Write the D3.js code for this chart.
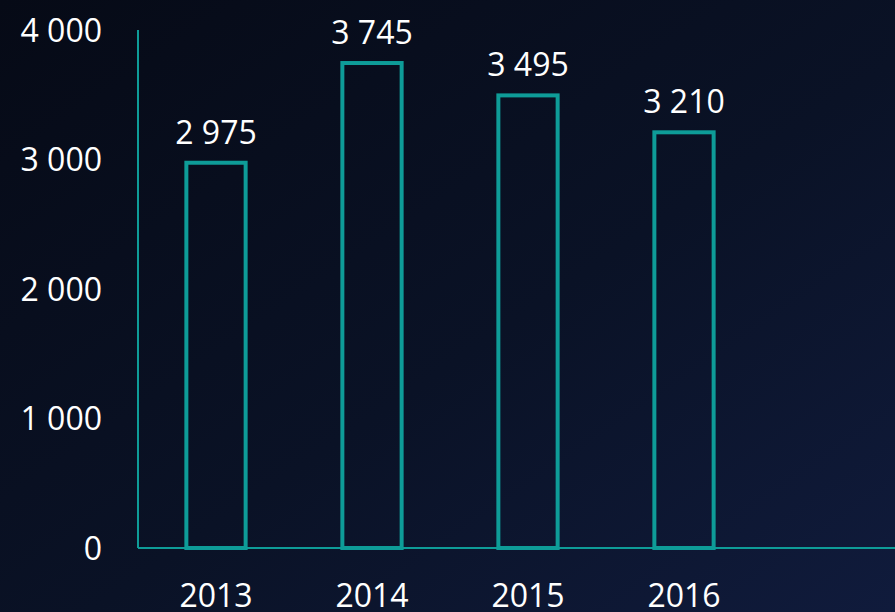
<!DOCTYPE html>
<html>
<head>
<meta charset="utf-8">
<script src="https://cdn.jsdelivr.net/npm/d3@7"></script>
<style>
  html, body { margin: 0; padding: 0; background: #080d1c; }
  svg { display: block; }
  text { font-family: "Open Sans", sans-serif; fill: #ffffff; }
</style>
</head>
<body>
<div id="chart"></div>
<script>
// chart data
const years = ['2013', '2014', '2015', '2016'];
const values = [2975, 3745, 3495, 3210];
const yTicks = [0, 1000, 2000, 3000, 4000];

const width = 895;
const height = 612;
const plotLeft = 138, plotTop = 30, plotBottom = 548;
const teal = '#0e9c98';

const svg = d3.select('#chart')
  .append('svg')
  .attr('width', width)
  .attr('height', height);

// background gradient
const defs = svg.append('defs');
const grad = defs.append('linearGradient')
  .attr('id', 'bg')
  .attr('x1', '0%').attr('y1', '0%')
  .attr('x2', '100%').attr('y2', '100%');
grad.append('stop').attr('offset', '0%').attr('stop-color', '#060a16');
grad.append('stop').attr('offset', '55%').attr('stop-color', '#0a1226');
grad.append('stop').attr('offset', '100%').attr('stop-color', '#101b3c');
svg.append('rect')
  .attr('width', width)
  .attr('height', height)
  .attr('fill', 'url(#bg)');

const x = d3.scaleBand()
  .domain(years)
  .range([plotLeft, plotLeft + 156 * years.length])
  .paddingInner(0.62)
  .paddingOuter(0.31);

const y = d3.scaleLinear()
  .domain([0, 4000])
  .range([plotBottom, plotTop]);

const fmt = d => d3.format(',')(d).replace(/,/g, ' ');

// y axis line
svg.append('line')
  .attr('x1', plotLeft).attr('x2', plotLeft)
  .attr('y1', plotTop).attr('y2', plotBottom)
  .attr('stroke', teal)
  .attr('stroke-width', 2);

// y tick labels
svg.selectAll('.ytick')
  .data(yTicks)
  .enter()
  .append('text')
  .attr('class', 'ytick')
  .attr('x', 102)
  .attr('y', d => y(d))
  .attr('dy', '0.36em')
  .attr('text-anchor', 'end')
  .attr('font-size', 32)
  .text(fmt);

// bars (outline only)
svg.selectAll('.bar')
  .data(values)
  .enter()
  .append('rect')
  .attr('class', 'bar')
  .attr('x', (d, i) => x(years[i]))
  .attr('y', d => y(d))
  .attr('width', x.bandwidth())
  .attr('height', d => plotBottom - y(d))
  .attr('fill', 'none')
  .attr('stroke', teal)
  .attr('stroke-width', 4);

// x axis line
svg.append('line')
  .attr('x1', plotLeft).attr('x2', width)
  .attr('y1', plotBottom).attr('y2', plotBottom)
  .attr('stroke', teal)
  .attr('stroke-width', 2);

// value labels
svg.selectAll('.val')
  .data(values)
  .enter()
  .append('text')
  .attr('class', 'val')
  .attr('x', (d, i) => x(years[i]) + x.bandwidth() / 2)
  .attr('y', d => y(d) - 19)
  .attr('text-anchor', 'middle')
  .attr('font-size', 32)
  .text(fmt);

// year labels
svg.selectAll('.year')
  .data(years)
  .enter()
  .append('text')
  .attr('class', 'year')
  .attr('x', d => x(d) + x.bandwidth() / 2)
  .attr('y', 607)
  .attr('text-anchor', 'middle')
  .attr('font-size', 32)
  .text(d => d);
</script>
</body>
</html>
